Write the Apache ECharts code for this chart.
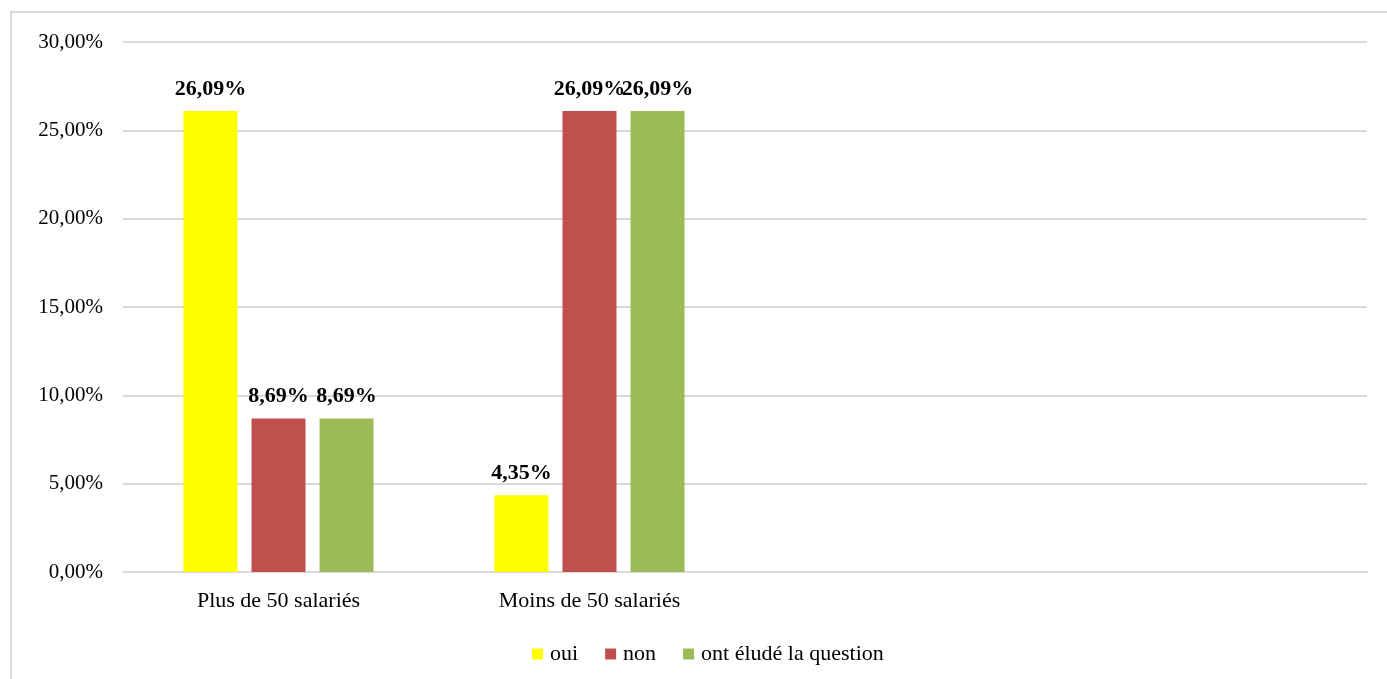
<!DOCTYPE html>
<html>
<head>
<meta charset="utf-8">
<script src="https://cdn.jsdelivr.net/npm/echarts@6/dist/echarts.min.js"></script>
<style>html,body{margin:0;padding:0;background:#fff}#c{width:1387px;height:679px}</style>
</head>
<body>
<div id="c"></div>
<script>
const categories = ['Plus de 50 salariés', 'Moins de 50 salariés', '', ''];
const seriesNames = ['oui', 'non', 'ont éludé la question'];
const oui = [26.09, 4.35, null, null];
const non = [8.69, 26.09, null, null];
const elude = [8.69, 26.09, null, null];
const colors = ['#ffff00', '#c0504d', '#9bbb59'];
const yTicks = { min: 0, max: 30, interval: 5 };

const fmt = v => v.toFixed(2).replace('.', ',') + '%';
const font = 'Liberation Serif';
const chart = echarts.init(document.getElementById('c'));
const mk = (name, data, color) => ({
  name, type: 'bar', data, barWidth: 54, barGap: '26%',
  itemStyle: { color },
  label: { show: true, position: 'top', distance: 11, formatter: p => fmt(p.value),
    fontFamily: font, fontSize: 22, fontWeight: 'bold', color: '#000' }
});
chart.setOption({
  animation: false,
  backgroundColor: '#fff',
  graphic: [{ type: 'rect', shape: { x: 11, y: 12, width: 1400, height: 700 },
    style: { fill: 'none', stroke: '#d9d9d9', lineWidth: 2 }, silent: true }],
  grid: { left: 123, right: 20, top: 42, bottom: 107 },
  legend: { top: 638, left: 527, itemWidth: 11, itemHeight: 11, itemGap: 27, icon: 'rect',
    textStyle: { fontFamily: font, fontSize: 22, color: '#000', padding: [0, 0, 0, 2] } },
  xAxis: { type: 'category', data: categories,
    axisLine: { lineStyle: { color: '#d9d9d9', width: 2 } }, axisTick: { show: false },
    axisLabel: { fontFamily: font, fontSize: 22, color: '#000', margin: 18, interval: 0 } },
  yAxis: { type: 'value', min: yTicks.min, max: yTicks.max, interval: yTicks.interval,
    axisLine: { show: false }, axisTick: { show: false },
    splitLine: { lineStyle: { color: '#d9d9d9', width: 2 } },
    axisLabel: { fontFamily: font, fontSize: 21, color: '#000', margin: 20, formatter: v => fmt(v) } },
  series: [mk(seriesNames[0], oui, colors[0]), mk(seriesNames[1], non, colors[1]), mk(seriesNames[2], elude, colors[2])]
});
</script>
</body>
</html>
